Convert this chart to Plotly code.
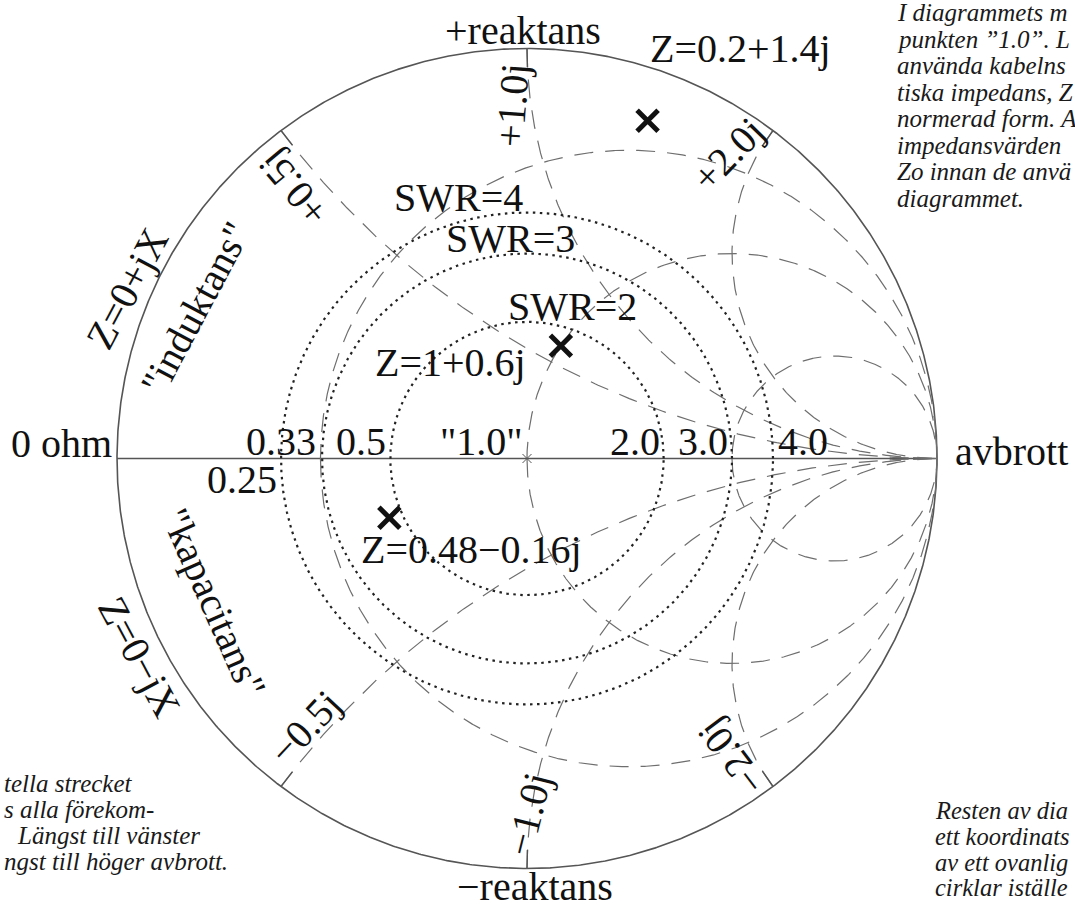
import numpy as np
import plotly.graph_objects as go

# ---- chart content -------------------------------------------------------
resistance_circles = [0.33, 1.0, 3.0]
reactance_arcs = [0.5, 1.0, 2.0, -0.5, -1.0, -2.0]
reactance_labels = ["+0.5j", "+1.0j", "+2.0j", "−0.5j", "−1.0j", "−2.0j"]
swr_values = [2, 3, 4]
swr_labels = ["SWR=2", "SWR=3", "SWR=4"]
axis_values = [0.25, 0.33, 0.5, 1.0, 2.0, 3.0, 4.0]
axis_labels = ["0.25", "0.33", "0.5", "\"1.0\"", "2.0", "3.0", "4.0"]
point_r = [0.2, 1.0, 0.48]
point_x = [1.4, 0.6, -0.16]
point_labels = ["Z=0.2+1.4j", "Z=1+0.6j", "Z=0.48−0.16j"]

note_top_right = ["I diagrammets m", "punkten ”1.0”. L", "använda kabelns",
                  "tiska impedans, Z", "normerad form. A", "impedansvärden",
                  "Zo innan de anvä", "diagrammet."]
note_bottom_left = ["tella strecket", "s alla förekom-", "Längst till vänster",
                    "ngst till höger avbrott."]
note_bottom_right = ["Resten av dia", "ett koordinats", "av ett ovanlig",
                     "cirklar iställe"]

# ---- page geometry (pixels) ----------------------------------------------
W, H = 1075, 909
CX, CY, R = 527.0, 458.5, 410.0
SERIF = "Liberation Serif"
INK = "#111111"
NOTE_INK = "#1a1a1a"
GRID = "#6e6e6e"
RIM = "#555555"


def to_data(px, py):
    return (px - CX) / R, (CY - py) / R


def to_paper(px, py):
    return px / W, 1 - py / H


def gamma(z):
    return (z - 1) / (z + 1)


fig = go.Figure()


def line(x, y, color, width, dash="solid"):
    fig.add_trace(go.Scatter(x=x, y=y, mode="lines", hoverinfo="skip",
                             line=dict(color=color, width=width, dash=dash)))


# outer rim and real axis
t = np.linspace(0, 2 * np.pi, 1441)
line(np.cos(t), np.sin(t), RIM, 1.6)
line([-1, 1], [0, 0], RIM, 1.4)

# constant-resistance circles
for r in resistance_circles:
    c, rad = r / (1 + r), 1 / (1 + r)
    tt = np.linspace(np.pi, 3 * np.pi, 1441)
    line(c + rad * np.cos(tt), rad * np.sin(tt), GRID, 1.2, "19px,12px")

# constant-reactance arcs, with a short solid tick at the rim
rs = np.concatenate([np.linspace(0, 0.3, 240), np.logspace(np.log10(0.3), 4, 700)[1:]])
TICK = 19 / R
for xv in reactance_arcs:
    g = gamma(rs + 1j * xv)
    gx, gy = np.append(g.real, 1.0), np.append(g.imag, 0.0)
    line(gx, gy, GRID, 1.2, "19px,12px")
    seg = np.hypot(np.diff(gx), np.diff(gy))
    cum = np.concatenate([[0], np.cumsum(seg)])
    k = cum <= TICK
    line(gx[k], gy[k], RIM, 1.4)

# SWR circles
for s in swr_values:
    rho = (s - 1) / (s + 1)
    line(rho * np.cos(t), rho * np.sin(t), "#222222", 2.2, "2.5px,4.5px")

# centre point
fig.add_trace(go.Scatter(x=[0], y=[0], mode="markers", hoverinfo="skip",
                         marker=dict(symbol="x-thin", size=9,
                                     line=dict(color=RIM, width=1))))

# marked impedances
zs = np.array(point_r) + 1j * np.array(point_x)
gp = gamma(zs)
fig.add_trace(go.Scatter(x=gp.real, y=gp.imag, mode="markers", hoverinfo="skip",
                         marker=dict(symbol="x-thin", size=21,
                                     line=dict(color=INK, width=5))))


def label(text, px, py, size=40, angle=0, xanchor="center"):
    x, y = to_data(px, py)
    fig.add_annotation(x=x, y=y, xref="x", yref="y", text=text, showarrow=False,
                       textangle=angle, xanchor=xanchor, yanchor="middle",
                       font=dict(family=SERIF, size=size, color=INK))


# impedance labels, offset from their marks (px)
point_offsets = [(0, -72, "left"), (-33, 17, "right"), (-30, 32, "left")]
for g, txt, (ox, oy, anc) in zip(gp, point_labels, point_offsets):
    px, py = CX + g.real * R, CY - g.imag * R
    label(txt, px + ox, py + oy, xanchor=anc)

# resistance values along the real axis
axis_side = ["below", "left", "left", "left", "left", "left", "right"]
for v, txt, side in zip(axis_values, axis_labels, axis_side):
    px = CX + (v - 1) / (v + 1) * R
    if side == "left":
        label(txt, px - 2, CY - 17, xanchor="right")
    elif side == "right":
        label(txt, px + 3, CY - 17, xanchor="left")
    else:
        label(txt, px - 2, CY + 21, xanchor="right")

# SWR circle names, sitting on top of each circle
swr_label_x = [572, 510, 458]
for s, txt, lx in zip(swr_values, swr_labels, swr_label_x):
    rho = (s - 1) / (s + 1)
    label(txt, lx, CY - rho * R - 15)

# reactance arc names
reactance_label_pos = [(293, 188, -130), (512, 105, -86), (728, 154, -46),
                       (305, 727, -47), (528, 814, -76), (731, 757, -127)]
for txt, (px, py, ang) in zip(reactance_labels, reactance_label_pos):
    label(txt, px, py, angle=ang)

# rim annotations
label("+reaktans", 523, 30)
label("−reaktans", 535, 886)
label("0 ohm", 114, 443, xanchor="right")
label("avbrott", 953, 451, xanchor="left")
label("Z=0+jX", 127, 288, angle=-62)
label("\"induktans\"", 195, 308, angle=-62)
label("Z=0−jX", 140, 657, angle=62)
label("\"kapacitans\"", 214, 602, angle=66)


# explanatory notes in italics
def note_line(txt, px, baseline, xanchor, size=25):
    x, y = to_paper(px, baseline - 0.3375 * size)
    fig.add_annotation(x=x, y=y, xref="paper", yref="paper", text=txt,
                       showarrow=False, xanchor=xanchor, yanchor="middle",
                       font=dict(family=SERIF, size=size, color=NOTE_INK, style="italic"))


for txt, b in zip(note_top_right, [21, 47.5, 74, 100.5, 127, 153.5, 180, 206.5]):
    note_line(txt, 895, b, "left")
for txt, b in zip(note_bottom_right, [819, 845, 870.5, 896]):
    note_line(txt, 933, b, "left", size=24.5)
for txt, xl, b in zip(note_bottom_left, [2, 2, 15, 2], [792, 818, 844, 870]):
    note_line(txt, xl, b, "left")

x0, y0 = to_data(0, H)
x1, y1 = to_data(W, 0)
fig.update_layout(
    width=W, height=H, margin=dict(l=0, r=0, t=0, b=0),
    paper_bgcolor="white", plot_bgcolor="white", showlegend=False,
    xaxis=dict(range=[x0, x1], visible=False, fixedrange=True),
    yaxis=dict(range=[y0, y1], visible=False, fixedrange=True),
)

fig.write_html("out.html")
